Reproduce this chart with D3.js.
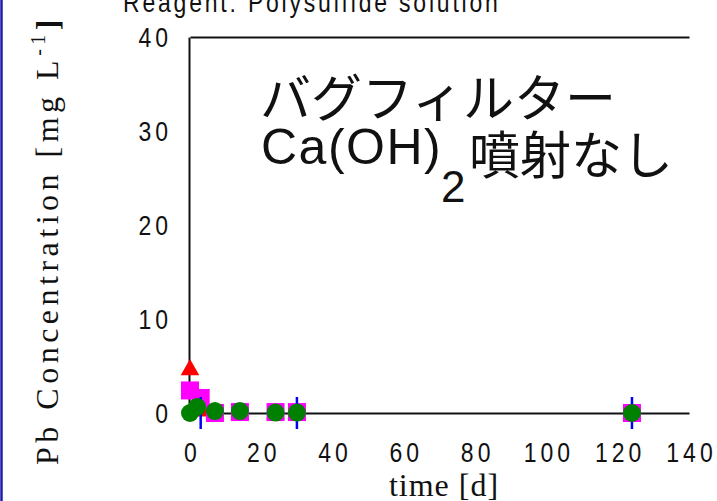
<!DOCTYPE html>
<html><head><meta charset="utf-8">
<script src="https://cdn.jsdelivr.net/npm/d3@7"></script>
<style>html,body{margin:0;padding:0;background:#fff;overflow:hidden}</style>
</head><body>
<svg id="c" width="717" height="501"></svg>
<script>
// ---- data ----
const titleText = "Reagent: Polysulfide solution";
const xLabelText = "time [d]";
const yLabelMain = "Pb Concentration [mg L";
const yLabelSup = "-1";
const noteLine1 = "バグフィルター";
const noteLine2Latin = "Ca(OH)";
const noteLine2Sub = "2";
const noteLine2Jp = "噴射なし";
const yTicks = [0, 10, 20, 30, 40];
const xTicks = [0, 20, 40, 60, 80, 100, 120, 140];
const redDays = [0, 3, 7, 14, 24, 30, 124];
const redPb = [4.7, 0.3, 0.1, 0.0, 0.0, 0.0, 0.0];
const magentaDays = [0, 3, 7, 14, 24, 30, 124];
const magentaPb = [2.4, 1.6, 0.0, 0.1, 0.1, 0.1, 0.0];
const blueDays = [3, 30, 124];
const bluePb = [0.0, 0.0, 0.0];
const greenDays = [0, 2, 7, 14, 24, 30, 124];
const greenPb = [0.0, 0.65, 0.2, 0.2, 0.05, 0.05, 0.0];

// ---- drawing ----
const svg = d3.select("#c");
const x = d3.scaleLinear().domain([0, 140]).range([190, 689]);
const y = d3.scaleLinear().domain([0, 40]).range([413, 37]);
const SANS = "'Liberation Sans', Arial, sans-serif";
const SERIF = "'Liberation Serif', 'Times New Roman', serif";
const JP = "'Noto Sans CJK JP', sans-serif";

// left blue frame line
svg.append("line").attr("x1", 1.5).attr("x2", 1.5).attr("y1", 0).attr("y2", 501)
  .attr("stroke", "#1c1ca8").attr("stroke-width", 2.5);

// title
svg.append("text").attr("transform", "translate(123,12) scale(1,1.2)")
  .attr("font-family", SANS).attr("font-size", 23).attr("letter-spacing", 2.8)
  .attr("fill", "#111").text(titleText);

// axes
const gx = svg.append("g").attr("transform", `translate(0,${y(0)})`)
  .call(d3.axisBottom(x).tickValues(xTicks).tickSize(0).tickSizeOuter(0).tickFormat(d3.format("d")));
gx.selectAll("text").attr("dy", 0).attr("dx", 2)
  .attr("transform", "scale(1,1.2)").attr("y", 40.5);
const gxTop = svg.append("g").attr("transform", `translate(0,${y(40)})`)
  .call(d3.axisTop(x).tickValues([]).tickSizeOuter(0));
const gy = svg.append("g").attr("transform", `translate(${x(0) - 1},0)`)
  .call(d3.axisLeft(y).tickValues(yTicks).tickSize(0).tickSizeOuter(0).tickPadding(17));
gy.selectAll("text").attr("dy", 0).attr("y", 8).attr("transform", "scale(1,1.2)");
[gx, gxTop, gy].forEach(g => {
  g.select(".domain").attr("stroke", "#111").attr("stroke-width", 2);
  g.selectAll("text").attr("font-family", SANS).attr("font-size", 23)
    .attr("letter-spacing", 4).attr("fill", "#111");
});

// axis labels
svg.append("text").attr("x", 444).attr("y", 496).attr("text-anchor", "middle")
  .attr("font-family", SERIF).attr("font-size", 32).attr("letter-spacing", 1)
  .attr("fill", "#111").text(xLabelText);
const yl = svg.append("text").attr("transform", "translate(58,240) rotate(-90)")
  .attr("text-anchor", "middle").attr("font-family", SERIF).attr("font-size", 32)
  .attr("letter-spacing", 4.5).attr("fill", "#111");
yl.append("tspan").text(yLabelMain);
yl.append("tspan").attr("dy", -13).attr("font-size", 20).text(yLabelSup);
yl.append("tspan").attr("dy", 13).attr("font-weight", "bold").text("]");

// annotation
svg.append("text").attr("x", 260).attr("y", 117).attr("font-family", JP)
  .attr("font-size", 51).attr("fill", "#111").text(noteLine1);
svg.append("text").attr("x", 261).attr("y", 164).attr("font-family", SANS)
  .attr("font-size", 50).attr("letter-spacing", 1.5).attr("fill", "#111").text(noteLine2Latin);
svg.append("text").attr("x", 441).attr("y", 202).attr("font-family", SANS)
  .attr("font-size", 44).attr("fill", "#111").text(noteLine2Sub);
svg.append("text").attr("x", 469).attr("y", 174).attr("font-family", JP)
  .attr("font-size", 51).attr("fill", "#111").text(noteLine2Jp);

// series
const pts = (ds, vs) => ds.map((d, i) => ({d, v: vs[i]}));
const tri = d3.symbol().type(d3.symbolTriangle).size(150);
svg.append("g").selectAll("path").data(pts(redDays, redPb)).join("path")
  .attr("d", tri).attr("transform", p => `translate(${x(p.d)},${y(p.v) + 1})`)
  .attr("fill", "#ff0000");
svg.append("g").selectAll("rect").data(pts(magentaDays, magentaPb)).join("rect")
  .attr("x", p => x(p.d) - 9).attr("y", p => y(p.v) - 9).attr("width", 18).attr("height", 18)
  .attr("fill", "#ff00ff");
svg.append("g").selectAll("line").data(pts(blueDays, bluePb)).join("line")
  .attr("x1", p => x(p.d)).attr("x2", p => x(p.d))
  .attr("y1", p => y(p.v) - 16).attr("y2", p => y(p.v) + 16)
  .attr("stroke", "#0000ff").attr("stroke-width", 2.5);
svg.append("g").selectAll("circle").data(pts(greenDays, greenPb)).join("circle")
  .attr("cx", p => x(p.d)).attr("cy", p => y(p.v)).attr("r", 9)
  .attr("fill", "#008000");
</script>
</body></html>
